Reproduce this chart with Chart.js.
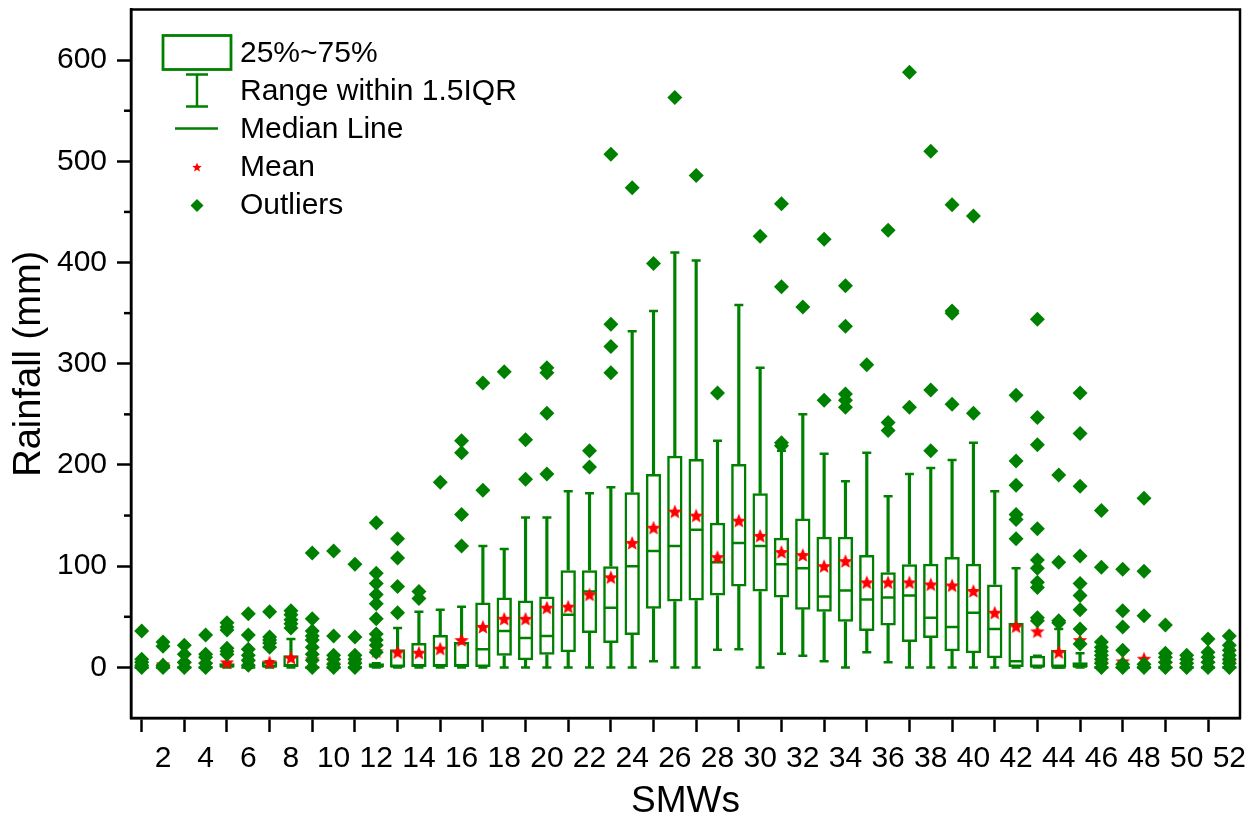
<!DOCTYPE html>
<html>
<head>
<meta charset="utf-8">
<script src="https://cdn.jsdelivr.net/npm/chart.js@4.4.1/dist/chart.umd.min.js"></script>
<style>
html,body{margin:0;padding:0;background:#fff;}
#wrap{width:1256px;height:820px;position:relative;}
</style>
</head>
<body>
<div id="wrap"><canvas id="c"></canvas></div>
<script>
// SMW (standard meteorological week) numbers
var weeks = [1,2,3,4,5,6,7,8,9,10,11,12,13,14,15,16,17,18,19,20,21,22,23,24,25,26,
             27,28,29,30,31,32,33,34,35,36,37,38,39,40,41,42,43,44,45,46,47,48,49,50,51,52];

// box stats (mm)
var q1   = [0,0,0,0,0,0,0,0,0,0,0,0,0,0,0,0,0,11.5,7,12.5,15,34,24,32,58,65,
            66,71,80,75,69,57,55,45,36,41.5,25,29,16,14,9,0,0,0,0,0,0,0,0,0,0,0];
var med  = [0,0,0,0,1,0,1,2,0,0,0,1,1,2,2,2,18,36,29,31,52,75,59,100,115,120,
            136,104,123,120,102,98,70,76,67,69,71,49,40,54,38,6,1,0,1,0,0,0,0,0,0,0];
var q3   = [0,0,0,0,4,0,6,12,0,0,0,4,18,24,32,25,64,69,66,70,96,96,100,173,191,209,
            206,143,201,172,128,147,129,129,111,94,102,102.5,109,102.5,82,44,11.5,17.5,5,0,0,0,0,0,0,0];
var lo   = [0,0,0,0,0,0,0,0,0,0,0,0,0,0,0,0,0,0,0,0,0,0,0,0,6,0,
            0,17.5,18,0,13.5,11.5,6,0,15,5,0,0,0,0,0,0,0,0,0,0,0,0,0,0,0,0];
var hi   = [0,0,0,0,4,0,6,28,0,0,0,4,39,55,57,60,120,117,148,148,174,172,178,332,352,410,
            402,224,358,296,214,250,211,184,212,169,191,197,205,222,174,98,11.5,38,14,0,0,0,0,0,0,0];
var mean = [4,3,3,3,5,5,5,9.5,8,3,4,16,15,14.5,18.5,27,40,48,48,59,60,72,89,123,138,154,
            150,109,145,130,114,111,100,105,84,84,84,82,81,75.5,54,40.5,35.6,15,27,4,6,8.6,4,3,4,5];
var outliers = [
  [0,2,5,8,36],[0,2,21,25],[0,5,13,22],[0,4,10,13,32],[13,16,19,37,40,44],
  [2,7,12,18,32,53],[20,24,27,30,55],[39,43,47,52,56],[0,7,13,20,27,31,36,48,113],[0,3,8,12,31,115],
  [0,4,8,12,30,102],[15,22,27,33,48,63,72,83,93,143],[54,80,108,127],[68,75],[183],
  [120,151,212,224],[175,281],[292],[186,225],[191,251,291,296],
  [],[198,214],[291,317,339,507],[474],[399],
  [563],[486],[271],[],[426],
  [219,222,376,458],[356],[264,423],[257,264,270,337,377],[299],
  [234,242,432],[257,588],[214,274,510],[260,350,352,457],[251,446],
  [],[127,146,151,180,204,269],[46,49,79,84,98,106,137,220,247,344],[44,46,104,190],[23,38,57,71,83,110,179,231,271],
  [0,4,8,12,16,20,25,99,155],[0,3,17,40,56,97],[0,3,51,95,167],[0,5,10,14,42],[0,4,8,12],
  [0,5,10,15,28],[0,4,8,12,17,22,31]
];

var xTicks = [2,4,6,8,10,12,14,16,18,20,22,24,26,28,30,32,34,36,38,40,42,44,46,48,50,52];
var yTicks = [0,100,200,300,400,500,600];
var yMinor = [50,150,250,350,450,550];

var GREEN = '#008000', RED = '#ff0000';
var FONT = "'Liberation Sans', Arial, sans-serif";

function starPath(ctx, cx, cy, R, r) {
    ctx.beginPath();
    for (var k = 0; k < 10; k++) {
        var rad = (k % 2 === 0) ? R : r;
        var a = -Math.PI / 2 + k * Math.PI / 5;
        var px = cx + rad * Math.cos(a), py = cy + rad * Math.sin(a);
        if (k === 0) ctx.moveTo(px, py); else ctx.lineTo(px, py);
    }
    ctx.closePath();
}

// red star used as the point style of the mean series
var starImg = document.createElement('canvas');
starImg.width = 18; starImg.height = 18;
(function(){
    var sc = starImg.getContext('2d');
    starPath(sc, 9, 9.7, 7.6, 3.4);
    sc.fillStyle = RED;
    sc.fill();
})();

var boxData = [], upData = [], lowData = [], capData = [], medData = [], meanData = [], outData = [];
for (var i = 0; i < weeks.length; i++) {
    boxData.push({x: weeks[i], y: [q1[i], q3[i]]});
    upData.push({x: weeks[i], y: [q3[i], hi[i]]});
    lowData.push({x: weeks[i], y: [lo[i], q1[i]]});
    capData.push({x: weeks[i], y: hi[i]});
    capData.push({x: weeks[i], y: lo[i]});
    medData.push({x: weeks[i], y: med[i]});
    meanData.push({x: weeks[i], y: mean[i]});
    for (var j = 0; j < outliers[i].length; j++) outData.push({x: weeks[i], y: outliers[i][j]});
}

// frame + minor y ticks
var framePlugin = {
    id: 'frame',
    afterDraw: function(chart) {
        var ctx = chart.ctx, ca = chart.chartArea, y = chart.scales.y;
        ctx.save();
        ctx.strokeStyle = '#000';
        ctx.lineWidth = 2.5;
        ctx.strokeRect(ca.left, ca.top, ca.right - ca.left, ca.bottom - ca.top);
        for (var k = 0; k < yMinor.length; k++) {
            var py = y.getPixelForValue(yMinor[k]);
            ctx.beginPath();
            ctx.moveTo(ca.left - 7, py);
            ctx.lineTo(ca.left, py);
            ctx.stroke();
        }
        ctx.restore();
    }
};

// legend in the top left corner
var legendPlugin = {
    id: 'boxLegend',
    afterDraw: function(chart) {
        var ctx = chart.ctx, ca = chart.chartArea;
        var L = ca.left, T = ca.top, cx = L + 66;
        ctx.save();
        ctx.strokeStyle = GREEN;
        ctx.lineWidth = 2.8;
        ctx.strokeRect(L + 32, T + 26, 68, 34);

        ctx.lineWidth = 2.5;
        ctx.beginPath();
        ctx.moveTo(cx, T + 65); ctx.lineTo(cx, T + 97);
        ctx.moveTo(cx - 11, T + 65); ctx.lineTo(cx + 11, T + 65);
        ctx.moveTo(cx - 11, T + 97); ctx.lineTo(cx + 11, T + 97);
        ctx.moveTo(L + 44, T + 119); ctx.lineTo(L + 87, T + 119);
        ctx.stroke();

        starPath(ctx, cx, T + 158, 5, 2.2);
        ctx.fillStyle = RED;
        ctx.fill();

        ctx.beginPath();
        ctx.moveTo(cx, T + 189.5); ctx.lineTo(cx + 6.5, T + 196);
        ctx.lineTo(cx, T + 202.5); ctx.lineTo(cx - 6.5, T + 196);
        ctx.closePath();
        ctx.fillStyle = GREEN;
        ctx.fill();

        ctx.fillStyle = '#000';
        ctx.font = '30px ' + FONT;
        ctx.textBaseline = 'middle';
        ctx.textAlign = 'left';
        var tx = L + 109;
        ctx.fillText('25%~75%', tx, T + 44);
        ctx.fillText('Range within 1.5IQR', tx, T + 82);
        ctx.fillText('Median Line', tx, T + 120);
        ctx.fillText('Mean', tx, T + 158);
        ctx.fillText('Outliers', tx, T + 196);
        ctx.restore();
    }
};

function noPad(s) { s.paddingTop = 0; s.paddingBottom = 0; s.paddingLeft = 0; s.paddingRight = 0; }

new Chart(document.getElementById('c'), {
    type: 'bar',
    data: {
        datasets: [
            { type: 'scatter', label: 'Outliers', data: outData, order: 0,
              pointStyle: 'rectRot', pointRadius: 7.5, pointBackgroundColor: GREEN,
              pointBorderWidth: 0, pointBorderColor: GREEN },
            { type: 'scatter', label: 'Mean', data: meanData, order: 1,
              pointStyle: starImg, pointRadius: 7 },
            { type: 'scatter', label: 'Median', data: medData, order: 2,
              pointStyle: 'line', pointRadius: 7, pointBorderColor: GREEN, pointBorderWidth: 2.5 },
            { type: 'scatter', label: 'Caps', data: capData, order: 3,
              pointStyle: 'line', pointRadius: 4.5, pointBorderColor: GREEN, pointBorderWidth: 2.5 },
            { type: 'bar', label: '25%~75%', data: boxData, order: 4, grouped: false,
              backgroundColor: 'rgba(0,0,0,0)', borderColor: GREEN, borderWidth: 2.5,
              borderSkipped: false, categoryPercentage: 1, barPercentage: 0.72 },
            { type: 'bar', label: 'upper', data: upData, order: 5, grouped: false,
              backgroundColor: GREEN, borderWidth: 0, barThickness: 2.5 },
            { type: 'bar', label: 'lower', data: lowData, order: 5, grouped: false,
              backgroundColor: GREEN, borderWidth: 0, barThickness: 2.5 }
        ]
    },
    options: {
        responsive: true,
        maintainAspectRatio: false,
        animation: false,
        events: [],
        layout: { padding: { top: 9, right: 16, left: 0, bottom: 0 } },
        plugins: { legend: { display: false }, tooltip: { enabled: false } },
        scales: {
            x: {
                type: 'linear', min: 0.5, max: 52.5, offset: false,
                afterBuildTicks: function(s) { s.ticks = xTicks.map(function(v){ return {value: v}; }); },
                afterFit: function(s) { s.height = 102; noPad(s); },
                grid: { drawOnChartArea: false, tickLength: 14, tickWidth: 2.5, tickColor: '#000' },
                border: { display: true, color: '#000', width: 2.5 },
                ticks: { color: '#000', padding: 9, maxRotation: 0, autoSkip: false,
                         font: { family: FONT, size: 30 } },
                title: { display: true, text: 'SMWs', color: '#000', padding: { top: 0, bottom: 0 },
                         font: { family: FONT, size: 37, lineHeight: 1 } }
            },
            y: {
                type: 'linear', min: -50, max: 650,
                afterBuildTicks: function(s) { s.ticks = yTicks.map(function(v){ return {value: v}; }); },
                afterFit: function(s) { s.width = 131; noPad(s); },
                grid: { drawOnChartArea: false, tickLength: 14, tickWidth: 2.5, tickColor: '#000' },
                border: { display: true, color: '#000', width: 2.5 },
                ticks: { color: '#000', padding: 10, font: { family: FONT, size: 30 } },
                title: { display: true, text: 'Rainfall (mm)', color: '#000', padding: { top: 11, bottom: 0 },
                         font: { family: FONT, size: 38, lineHeight: 1 } }
            }
        }
    },
    plugins: [framePlugin, legendPlugin]
});
</script>
</body>
</html>
